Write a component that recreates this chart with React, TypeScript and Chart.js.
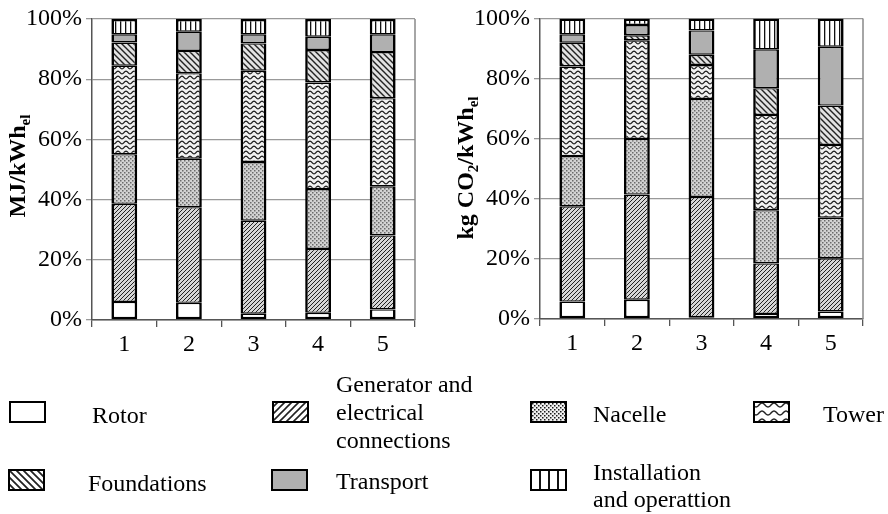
import React, { useEffect, useRef } from 'react';
import { Chart, registerables } from 'chart.js';

Chart.register(...registerables);

// ---------------- DATA ----------------
const categories = ['1', '2', '3', '4', '5'];
const componentNames = [
  'Rotor',
  'Generator and electrical connections',
  'Nacelle',
  'Tower',
  'Foundations',
  'Transport',
  'Installation and operattion',
];
const yTicks = [0, 20, 40, 60, 80, 100];

// Left chart: MJ/kWh_el (share, %)
const energyRotor = [6.0, 5.7, 2.1, 2.4, 3.5];
const energyGenerator = [32.6, 31.8, 30.9, 21.2, 24.6];
const energyNacelle = [16.5, 16.1, 19.5, 19.9, 16.3];
const energyTower = [29.4, 28.4, 30.3, 35.4, 29.3];
const energyFoundations = [7.7, 7.4, 9.1, 10.8, 15.3];
const energyTransport = [2.7, 6.4, 3.0, 4.4, 5.9];
const energyInstallation = [5.1, 4.2, 5.1, 5.9, 5.1];

// Right chart: kg CO2/kWh_el (share, %)
const co2Rotor = [5.8, 6.4, 0.6, 1.7, 2.5];
const co2Generator = [31.7, 35.0, 40.0, 16.8, 17.7];
const co2Nacelle = [16.7, 18.5, 32.6, 17.7, 13.5];
const co2Tower = [29.8, 32.8, 11.3, 31.7, 24.2];
const co2Foundations = [7.9, 1.7, 3.4, 8.9, 13.1];
const co2Transport = [2.8, 3.4, 8.1, 12.9, 19.6];
const co2Installation = [5.3, 2.2, 4.0, 10.3, 9.4];

const energySeries = [energyRotor, energyGenerator, energyNacelle, energyTower, energyFoundations, energyTransport, energyInstallation];
const co2Series = [co2Rotor, co2Generator, co2Nacelle, co2Tower, co2Foundations, co2Transport, co2Installation];

const fillKinds = ['rotor', 'gen', 'nacelle', 'tower', 'found', 'transport', 'install'];

// ---------------- STYLE / LAYOUT ----------------
const SERIF = '"Liberation Serif", "Times New Roman", serif';

type Part = { text: string; size: number; dy: number };

const leftTitle: Part[] = [
  { text: 'MJ/kWh', size: 24, dy: 0 },
  { text: 'el', size: 15, dy: 5 },
];
const rightTitle: Part[] = [
  { text: 'kg CO', size: 24, dy: 0 },
  { text: '2', size: 15, dy: 5 },
  { text: '/kWh', size: 24, dy: 0 },
  { text: 'el', size: 15, dy: 5 },
];

function makeFill(ctx: CanvasRenderingContext2D, kind: string, s: number): string | CanvasPattern {
  if (kind === 'rotor') return '#ffffff';
  if (kind === 'transport') return '#b0b0b0';
  const t = document.createElement('canvas');
  const g = t.getContext('2d')!;
  const legend = s > 1;
  if (kind === 'gen' || kind === 'found') {
    const n = Math.round((kind === 'gen' ? 4 : 6) * s);
    t.width = n;
    t.height = n;
    g.fillStyle = kind === 'gen' ? (legend ? '#ffffff' : '#d6d6d6') : legend ? '#ffffff' : '#e2e2e2';
    g.fillRect(0, 0, n, n);
    g.strokeStyle = '#222222';
    g.lineWidth = kind === 'gen' ? (legend ? 1.6 : 1.0) : legend ? 1.8 : 1.4;
    g.beginPath();
    if (kind === 'gen') {
      g.moveTo(-n, n); g.lineTo(n, -n);
      g.moveTo(-1, n + 1); g.lineTo(n + 1, -1);
      g.moveTo(0, 2 * n); g.lineTo(2 * n, 0);
    } else {
      g.moveTo(-1, -1); g.lineTo(n + 1, n + 1);
      g.moveTo(0, -n); g.lineTo(2 * n, n);
      g.moveTo(-n, 0); g.lineTo(n, 2 * n);
    }
    g.stroke();
  } else if (kind === 'nacelle') {
    t.width = 4;
    t.height = 4;
    g.fillStyle = legend ? '#f0f0f0' : '#d2d2d2';
    g.fillRect(0, 0, 4, 4);
    g.fillStyle = legend ? '#1a1a1a' : '#6a6a6a';
    g.fillRect(0, 0, 1.5, 1.5);
    g.fillRect(2, 2, 1.5, 1.5);
  } else if (kind === 'tower') {
    const w = Math.round(8 * s);
    const h = Math.round(5 * s);
    t.width = w;
    t.height = h;
    g.fillStyle = legend ? '#ffffff' : '#f2f2f2';
    g.fillRect(0, 0, w, h);
    g.strokeStyle = '#222222';
    g.lineWidth = legend ? 1.5 : 1.2;
    g.beginPath();
    for (let x = -1; x <= w + 1; x += 0.5) {
      const y = h / 2 + 1.3 * s * Math.sin((2 * Math.PI * x) / w);
      if (x === -1) g.moveTo(x, y);
      else g.lineTo(x, y);
    }
    g.stroke();
  } else if (kind === 'install') {
    const w = Math.round(5 * s);
    t.width = w;
    t.height = 4;
    g.fillStyle = '#ffffff';
    g.fillRect(0, 0, w, 4);
    g.fillStyle = '#111111';
    g.fillRect(0, 0, legend ? 2 : 1.3, 4);
  }
  return ctx.createPattern(t, 'repeat')!;
}

const titlePlugin = (parts: Part[], baseX: number, centerY: number) => ({
  id: 'ytitle',
  afterDraw(chart: any) {
    const ctx: CanvasRenderingContext2D = chart.ctx;
    ctx.save();
    let total = 0;
    const widths: number[] = [];
    parts.forEach((p) => {
      ctx.font = `bold ${p.size}px ${SERIF}`;
      const w = ctx.measureText(p.text).width;
      widths.push(w);
      total += w;
    });
    ctx.translate(baseX, centerY);
    ctx.rotate(-Math.PI / 2);
    ctx.fillStyle = '#000';
    ctx.textBaseline = 'alphabetic';
    ctx.textAlign = 'left';
    let x = -total / 2;
    parts.forEach((p, i) => {
      ctx.font = `bold ${p.size}px ${SERIF}`;
      ctx.fillText(p.text, x, p.dy);
      x += widths[i];
    });
    ctx.restore();
  },
});

const framePlugin = {
  id: 'frame',
  beforeDatasetsDraw(chart: any) {
    const { ctx, chartArea } = chart;
    ctx.save();
    ctx.strokeStyle = '#888888';
    ctx.lineWidth = 1.5;
    ctx.beginPath();
    ctx.moveTo(chartArea.right, chartArea.top);
    ctx.lineTo(chartArea.right, chartArea.bottom);
    ctx.stroke();
    ctx.restore();
  },
};

function buildChart(
  canvas: HTMLCanvasElement,
  series: number[][],
  title: Part[],
  titleX: number,
  titleY: number,
  yWidth: number,
  padTop: number,
  padRight: number,
  xHeight: number
) {
  const ctx = canvas.getContext('2d')!;
  const datasets = series.map((data, i) => ({
    label: componentNames[i],
    data,
    backgroundColor: makeFill(ctx, fillKinds[i], 1) as any,
    borderColor: '#000000',
    borderWidth: {
      left: 2.6,
      right: 2.6,
      top: i === series.length - 1 ? 2.6 : 1.4,
      bottom: i === 0 ? 2.6 : 1.4,
    },
    borderSkipped: false as any,
    barPercentage: 0.8,
    categoryPercentage: 0.5,
  }));
  return new Chart(canvas, {
    type: 'bar',
    data: { labels: categories, datasets },
    options: {
      responsive: false,
      animation: false,
      events: [],
      layout: { padding: { left: 0, top: padTop, right: padRight, bottom: 0 } },
      plugins: { legend: { display: false }, tooltip: { enabled: false }, title: { display: false } },
      scales: {
        x: {
          stacked: true,
          offset: true,
          grid: { drawOnChartArea: false, drawTicks: true, tickLength: 7, color: '#555555', lineWidth: 1.3, offset: true },
          border: { color: '#555555', width: 1.5 },
          ticks: { font: { family: SERIF, size: 24 }, color: '#000', padding: 3 },
          afterFit: (s: any) => {
            s.height = xHeight;
          },
        },
        y: {
          stacked: true,
          min: 0,
          max: 100,
          afterBuildTicks: (s: any) => {
            s.ticks = yTicks.map((v) => ({ value: v }));
          },
          ticks: {
            font: { family: SERIF, size: 24 },
            color: '#000',
            padding: 4,
            callback: (v: any) => `${v}%`,
          },
          grid: { color: '#999999', lineWidth: 1.3, tickLength: 6 },
          border: { color: '#555555', width: 1.5 },
          afterFit: (s: any) => {
            s.width = yWidth;
          },
        },
      },
    },
    plugins: [framePlugin, titlePlugin(title, titleX, titleY)],
  });
}

type LegendEntry = { idx: number; sx: number; sy: number; tx: number; ty: number; lines: string[]; lh: number };

const legendLayout: LegendEntry[] = [
  { idx: 0, sx: 9, sy: 401, tx: 92, ty: 401, lines: ['Rotor'], lh: 28 },
  { idx: 1, sx: 272, sy: 401, tx: 336, ty: 370, lines: ['Generator and', 'electrical', 'connections'], lh: 28 },
  { idx: 2, sx: 530, sy: 401, tx: 593, ty: 400, lines: ['Nacelle'], lh: 28 },
  { idx: 3, sx: 753, sy: 401, tx: 823, ty: 400, lines: ['Tower'], lh: 28 },
  { idx: 4, sx: 8, sy: 469, tx: 88, ty: 469, lines: ['Foundations'], lh: 28 },
  { idx: 5, sx: 271, sy: 469, tx: 336, ty: 467, lines: ['Transport'], lh: 28 },
  { idx: 6, sx: 530, sy: 469, tx: 593, ty: 459, lines: ['Installation', 'and operattion'], lh: 27 },
];
const legendScale = [1, 1.75, 2, 1.5, 1.2, 1, 1.8];

export default function App() {
  const leftRef = useRef<HTMLCanvasElement>(null);
  const rightRef = useRef<HTMLCanvasElement>(null);
  const legRef = useRef<HTMLCanvasElement>(null);

  useEffect(() => {
    const c1 = buildChart(leftRef.current!, energySeries, leftTitle, 25, 166, 92, 19, 29, 45);
    const c2 = buildChart(rightRef.current!, co2Series, rightTitle, 29, 168, 96, 17, 25, 46);

    const lc = legRef.current!;
    const g = lc.getContext('2d')!;
    g.clearRect(0, 0, lc.width, lc.height);
    legendLayout.forEach((e) => {
      const w = 37;
      const h = 22;
      const x = e.sx;
      const y = e.sy - 360;
      g.save();
      g.fillStyle = makeFill(g, fillKinds[e.idx], legendScale[e.idx]) as any;
      g.translate(x, y);
      g.fillRect(0, 0, w, h);
      g.lineWidth = 2;
      g.strokeStyle = '#000';
      g.strokeRect(1, 1, w - 2, h - 2);
      g.restore();
    });

    return () => {
      c1.destroy();
      c2.destroy();
    };
  }, []);

  return (
    <div style={{ position: 'absolute', left: 0, top: 0, width: 888, height: 514, background: '#fff', overflow: 'hidden' }}>
      <canvas ref={leftRef} width={444} height={365} style={{ position: 'absolute', left: 0, top: 0 }} />
      <canvas ref={rightRef} width={444} height={365} style={{ position: 'absolute', left: 444, top: 0 }} />
      <canvas ref={legRef} width={888} height={154} style={{ position: 'absolute', left: 0, top: 360 }} />
      {legendLayout.map((e) => (
        <div
          key={e.idx}
          style={{
            position: 'absolute',
            left: e.tx,
            top: e.ty,
            fontFamily: SERIF,
            fontSize: 24,
            lineHeight: `${e.lh}px`,
            color: '#000',
            whiteSpace: 'nowrap',
          }}
        >
          {e.lines.map((l, i) => (
            <div key={i}>{l}</div>
          ))}
        </div>
      ))}
    </div>
  );
}
